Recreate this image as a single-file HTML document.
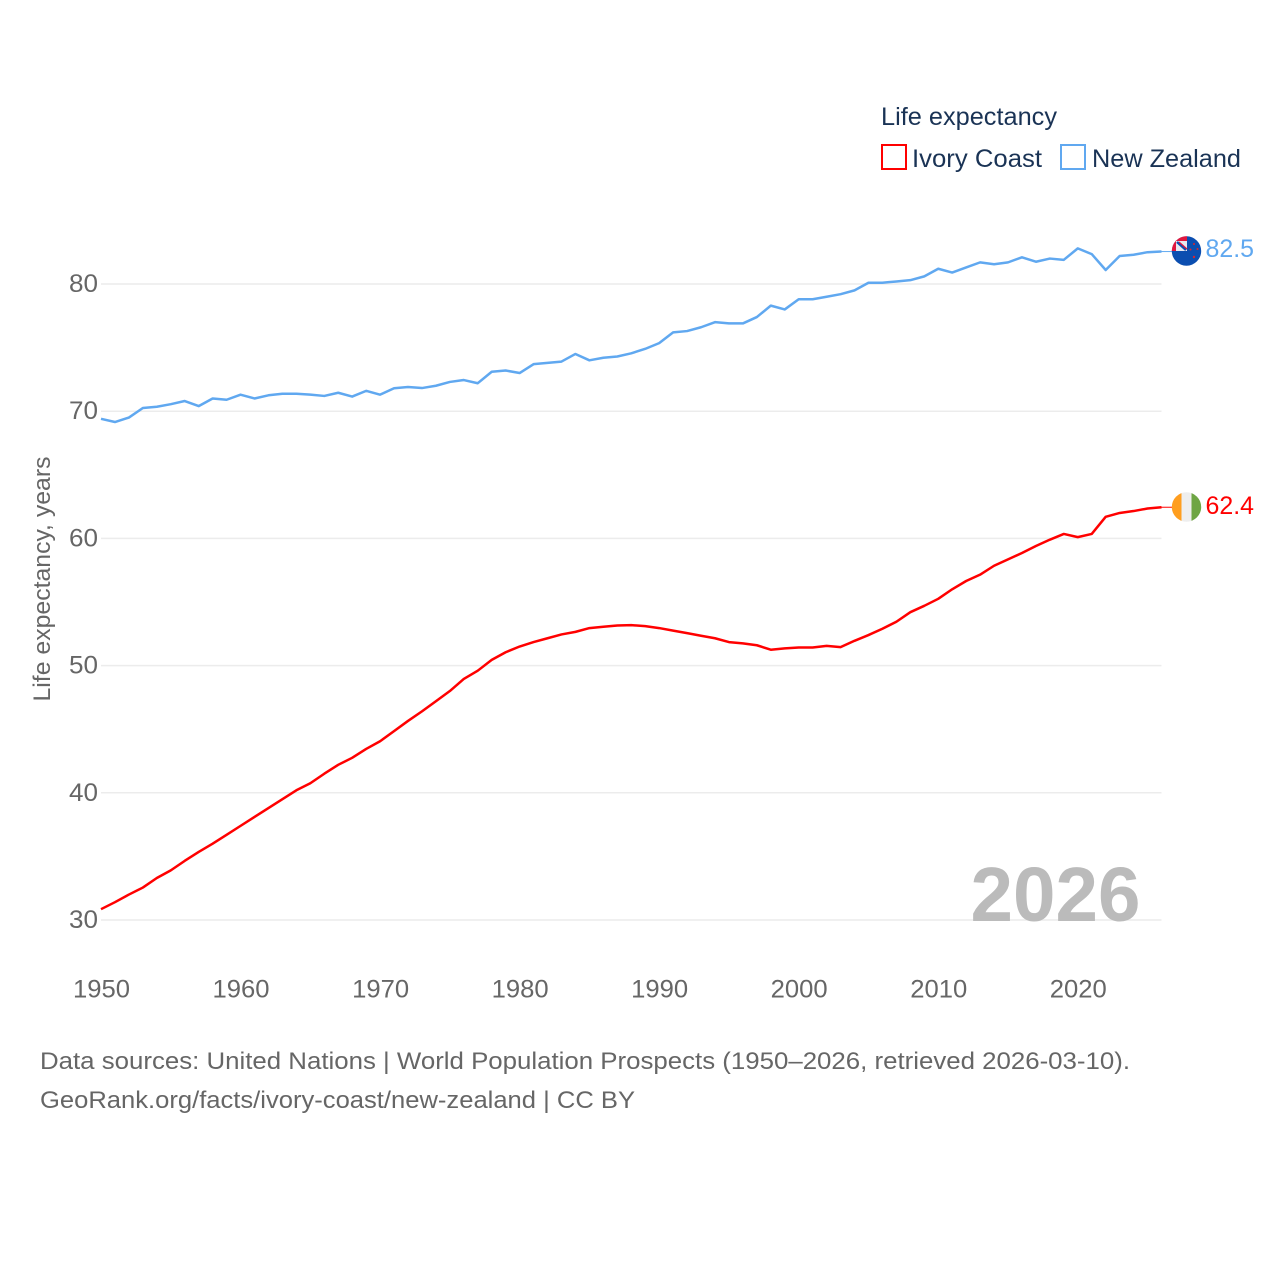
<!DOCTYPE html>
<html lang="en">
<head>
<meta charset="utf-8">
<title>Life expectancy: Ivory Coast and New Zealand</title>
<style>
html,body{margin:0;padding:0;background:#fff;}
#chart{display:block;width:1280px;height:1280px;}
text{font-family:"Liberation Sans",sans-serif;}
</style>
</head>
<body>
<svg id="chart" xmlns="http://www.w3.org/2000/svg" width="1280" height="1280" viewBox="0 0 1280 1280">
  <rect width="1280" height="1280" fill="#fff"/>
  <g id="grid"></g>
  <text x="1055.5" y="921" text-anchor="middle" font-size="77" font-weight="700" fill="#bbbbbb" textLength="170" lengthAdjust="spacingAndGlyphs">2026</text>
  <g id="yticks"></g>
  <g id="xticks"></g>
  <text transform="translate(50 579) rotate(-90)" text-anchor="middle" font-size="24" fill="#666666" textLength="245" lengthAdjust="spacingAndGlyphs">Life expectancy, years</text>
  <g id="series"></g>

  <g id="flag-nz">
    <clipPath id="nz-clip"><circle cx="1186.5" cy="251" r="14.7"/></clipPath>
    <g clip-path="url(#nz-clip)">
      <rect x="1170" y="235" width="33" height="33" fill="#0b4eb0"/>
      <rect x="1171" y="236" width="16" height="15" fill="#e8e8f0"/>
      <rect x="1171" y="236" width="16" height="5" fill="#e0173f"/>
      <rect x="1171" y="236" width="5" height="15" fill="#e0173f"/>
      <path d="M1177 242 L1186 250" stroke="#0b4eb0" stroke-width="2.5" fill="none"/>
      <path d="M1179 242 L1187 249" stroke="#e0173f" stroke-width="1.2" fill="none"/>
      <circle cx="1194" cy="244" r="1" fill="#d8262f"/>
      <circle cx="1197.5" cy="249" r="1" fill="#d8262f"/>
      <circle cx="1190.5" cy="249.5" r="1" fill="#d8262f"/>
      <circle cx="1194" cy="257" r="1.2" fill="#d8262f"/>
    </g>
  </g>
  <g id="flag-ci">
    <clipPath id="ci-clip"><circle cx="1186.5" cy="507" r="14.7"/></clipPath>
    <g clip-path="url(#ci-clip)">
      <rect x="1171" y="491" width="10.5" height="32" fill="#ff9e1f"/>
      <rect x="1181.5" y="491" width="10" height="32" fill="#eeeeee"/>
      <rect x="1191.5" y="491" width="11" height="32" fill="#6ea544"/>
    </g>
  </g>
  <text x="1205.5" y="257" font-size="25" fill="#60a8f0" textLength="48.5" lengthAdjust="spacingAndGlyphs">82.5</text>
  <text x="1205.5" y="514" font-size="25" fill="#ff0000" textLength="48.5" lengthAdjust="spacingAndGlyphs">62.4</text>

  <g>
    <text x="881" y="125" font-size="25" fill="#1a3355" textLength="176" lengthAdjust="spacingAndGlyphs">Life expectancy</text>
    <rect x="882" y="145" width="24" height="24" fill="#fff" stroke="#ff0000" stroke-width="2"/>
    <text x="912" y="167" font-size="25" fill="#1a3355" textLength="130" lengthAdjust="spacingAndGlyphs">Ivory Coast</text>
    <rect x="1061" y="145" width="24" height="24" fill="#fff" stroke="#60a8f0" stroke-width="2"/>
    <text x="1092" y="167" font-size="25" fill="#1a3355" textLength="149" lengthAdjust="spacingAndGlyphs">New Zealand</text>
  </g>

  <text x="40" y="1069" font-size="24" fill="#666666" textLength="1090" lengthAdjust="spacingAndGlyphs">Data sources: United Nations | World Population Prospects (1950–2026, retrieved 2026-03-10).</text>
  <text x="40" y="1108" font-size="24" fill="#666666" textLength="595" lengthAdjust="spacingAndGlyphs">GeoRank.org/facts/ivory-coast/new-zealand | CC BY</text>
</svg>
<script>
const firstYear = 1950;
const lastYear = 2026;
const yTickValues = [30, 40, 50, 60, 70, 80];
const xTickValues = [1950, 1960, 1970, 1980, 1990, 2000, 2010, 2020];
const newZealandValues = [
  69.4,69.15,69.5,70.25,70.35,70.55,70.8,70.4,71.0,70.9,
  71.3,71.0,71.25,71.37,71.37,71.3,71.2,71.45,71.15,71.6,
  71.3,71.8,71.9,71.82,72.0,72.3,72.45,72.2,73.1,73.2,
  73.0,73.7,73.8,73.9,74.5,74.0,74.2,74.3,74.55,74.9,
  75.35,76.2,76.3,76.6,77.0,76.9,76.9,77.4,78.3,78.0,
  78.8,78.8,79.0,79.2,79.5,80.1,80.1,80.2,80.3,80.6,
  81.2,80.9,81.3,81.7,81.55,81.7,82.1,81.75,82.0,81.9,
  82.8,82.35,81.1,82.2,82.3,82.5,82.55
];
const ivoryCoastValues = [
  30.85,31.4,32.0,32.55,33.3,33.9,34.65,35.35,36.0,36.7,
  37.4,38.1,38.8,39.5,40.2,40.75,41.5,42.2,42.75,43.45,
  44.05,44.85,45.65,46.4,47.2,48.0,48.95,49.6,50.45,51.05,
  51.5,51.85,52.15,52.45,52.65,52.95,53.05,53.15,53.18,53.1,
  52.95,52.75,52.55,52.35,52.15,51.85,51.75,51.6,51.25,51.35,
  51.42,51.42,51.55,51.45,51.95,52.4,52.9,53.45,54.2,54.7,
  55.25,56.0,56.65,57.15,57.85,58.35,58.85,59.4,59.9,60.35,
  60.1,60.35,61.7,62.0,62.15,62.35,62.45
];

const SVGNS = 'http://www.w3.org/2000/svg';
const plotLeft = 101, plotRight = 1161.5;
function xScale(year) {
  return plotLeft + (year - firstYear) * (plotRight - plotLeft) / (lastYear - firstYear);
}
function yScale(v) {
  return 920 - (v - 30) * (920 - 284) / 50;
}
const gridGroup = document.getElementById('grid');
const yGroup = document.getElementById('yticks');
const xGroup = document.getElementById('xticks');
const seriesGroup = document.getElementById('series');

yTickValues.forEach(function (v) {
  const line = document.createElementNS(SVGNS, 'line');
  line.setAttribute('x1', plotLeft);
  line.setAttribute('x2', plotRight);
  line.setAttribute('y1', yScale(v));
  line.setAttribute('y2', yScale(v));
  line.setAttribute('stroke', '#ececec');
  line.setAttribute('stroke-width', '1.5');
  
  
  gridGroup.appendChild(line);

  const label = document.createElementNS(SVGNS, 'text');
  label.setAttribute('x', 69);
  label.setAttribute('y', yScale(v) + 8);
  label.setAttribute('font-size', '25');
  label.setAttribute('fill', '#666666');
  label.setAttribute('textLength', '29');
  label.setAttribute('lengthAdjust', 'spacingAndGlyphs');
  
  
  label.textContent = v;
  yGroup.appendChild(label);
});

xTickValues.forEach(function (year) {
  const label = document.createElementNS(SVGNS, 'text');
  label.setAttribute('x', xScale(year) + 0.5);
  label.setAttribute('y', 997.5);
  label.setAttribute('text-anchor', 'middle');
  label.setAttribute('font-size', '25');
  label.setAttribute('fill', '#666666');
  label.setAttribute('textLength', '57');
  label.setAttribute('lengthAdjust', 'spacingAndGlyphs');
  
  
  label.textContent = year;
  xGroup.appendChild(label);
});

function drawSeries(values, color, name) {
  const pts = values.map(function (v, i) {
    return xScale(firstYear + i).toFixed(2) + ',' + yScale(v).toFixed(2);
  }).join(' ');
  const line = document.createElementNS(SVGNS, 'polyline');
  line.setAttribute('points', pts);
  line.setAttribute('fill', 'none');
  line.setAttribute('stroke', color);
  line.setAttribute('stroke-width', '2.5');
  line.setAttribute('stroke-linejoin', 'round');
  
  
  seriesGroup.appendChild(line);

  const lastY = yScale(values[values.length - 1]);
  const connector = document.createElementNS(SVGNS, 'line');
  connector.setAttribute('x1', plotRight);
  connector.setAttribute('x2', 1172);
  connector.setAttribute('y1', lastY);
  connector.setAttribute('y2', lastY);
  connector.setAttribute('stroke', color);
  connector.setAttribute('stroke-width', '1');
  
  
  seriesGroup.appendChild(connector);
}
drawSeries(newZealandValues, '#60a8f0', 'new-zealand');
drawSeries(ivoryCoastValues, '#ff0000', 'ivory-coast');
</script>
</body>
</html>
